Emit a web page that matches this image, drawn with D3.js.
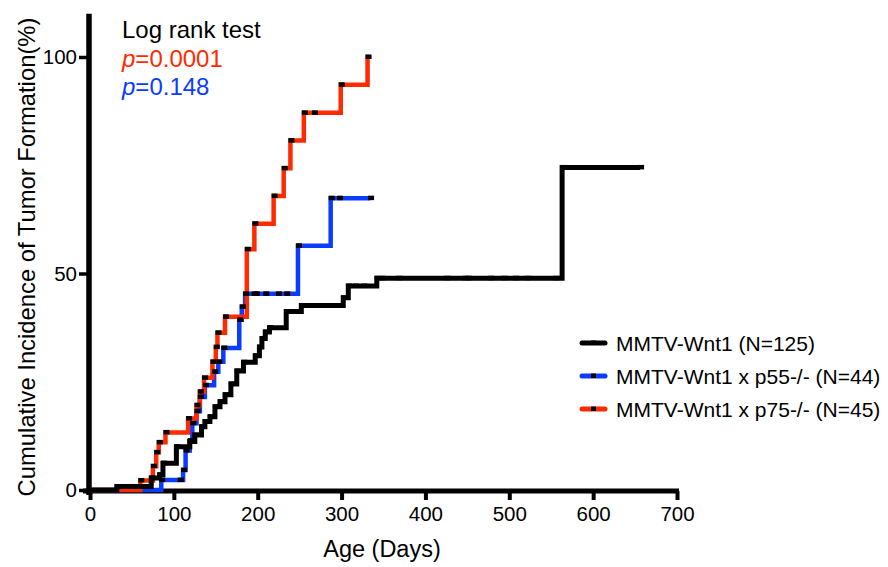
<!DOCTYPE html>
<html>
<head>
<meta charset="utf-8">
<script src="https://cdn.jsdelivr.net/npm/d3@7"></script>
<style>
  html, body { margin: 0; padding: 0; background: #fff; }
  svg { display: block; font-family: "Liberation Sans", Arial, Helvetica, sans-serif; }
</style>
</head>
<body>
<svg id="chart" width="888" height="567"></svg>
<script>
// ---- data ----
const xTicks = [0, 100, 200, 300, 400, 500, 600, 700];
const yTicks = [0, 50, 100];

// MMTV-Wnt1 (N=125)
const wntDays = [0, 32, 73, 83, 87, 103, 119, 125, 133, 137, 143, 149, 155, 161, 168, 175, 183, 197, 202, 205, 209, 214, 234, 252, 302, 308, 342, 563];
const wntPct  = [0, 0.8, 2.8, 3.5, 6.2, 10, 11.2, 12.7, 14.6, 15.8, 16.9, 19.2, 20.4, 22, 24.5, 27.5, 29.5, 31, 33, 35, 36.5, 37.5, 41.2, 42.6, 44.4, 47.1, 48.9, 74.5];
const wntEnd = 656;
const wntCensor = [42, 48, 56, 62, 280, 284, 316, 326, 348, 368, 425, 447, 451, 477, 493, 507, 521, 555, 656];

// MMTV-Wnt1 x p55-/- (N=44)
const p55Days = [0, 85, 111, 114, 119, 122, 127, 131, 137, 148, 153, 159, 178, 181, 185, 248, 287];
const p55Pct  = [0, 2.3, 4.6, 9.1, 11.4, 15.4, 18.2, 21.5, 24.2, 27.3, 29.6, 32.8, 39.3, 42.3, 45.3, 56.4, 67.4];
const p55End = 334;
const p55Censor = [107, 195, 198, 209, 224, 234, 297, 334];

// MMTV-Wnt1 x p75-/- (N=45)
const p75Days = [0, 60, 75, 79, 82, 90, 117, 127, 131, 136, 146, 150, 152, 161, 187, 196, 219, 231, 239, 255, 299, 331];
const p75Pct  = [0, 2.2, 5.5, 8.7, 11, 13.3, 16.5, 19.6, 22.7, 25.9, 29.6, 33, 36.3, 40, 55.6, 61.5, 67.9, 74.3, 80.7, 87.1, 93.6, 100];
const p75End = 332;
const p75Censor = [267];

const seriesNames = ["MMTV-Wnt1 (N=125)", "MMTV-Wnt1 x p55-/- (N=44)", "MMTV-Wnt1 x p75-/- (N=45)"];
const seriesColors = ["#000000", "#0a3cff", "#ff2a00"];
const pValues = ["=0.0001", "=0.148"];

// ---- build ----
const svg = d3.select("#chart");
const x = d3.scaleLinear().domain([0, 700]).range([90, 677]);
const y = d3.scaleLinear().domain([0, 110]).range([490, 13.7]);

function makeSeries(days, pct, end, censor) {
  const pts = days.map((d, i) => [d, pct[i]]);
  pts.push([end, pct[pct.length - 1]]);
  const levelAt = d => { let v = 0; for (let i = 0; i < days.length; i++) if (days[i] <= d) v = pct[i]; return v; };
  const marks = days.slice(1).map((d, i) => [d, pct[i + 1]]).concat(censor.map(d => [d, levelAt(d)]));
  return { pts, marks };
}
const series = [
  makeSeries(wntDays, wntPct, wntEnd, wntCensor),
  makeSeries(p55Days, p55Pct, p55End, p55Censor),
  makeSeries(p75Days, p75Pct, p75End, p75Censor)
];

// axes
const xAxis = svg.append("g").attr("transform", "translate(0,491)")
  .call(d3.axisBottom(x).tickValues(xTicks).tickSize(9).tickSizeOuter(0).tickPadding(6));
xAxis.select(".domain").attr("stroke", "#000").attr("stroke-width", 5).attr("d", `M${x(0) - 7},0H${x(700) + 2}`);
xAxis.selectAll(".tick line").attr("stroke", "#000").attr("stroke-width", 4);
xAxis.selectAll(".tick text").attr("font-size", 20.5).attr("fill", "#000").attr("font-family", "Liberation Sans, Arial, sans-serif");

const yAxis = svg.append("g").attr("transform", "translate(89,0)")
  .call(d3.axisLeft(y).tickValues(yTicks).tickSize(10).tickSizeOuter(0).tickPadding(2));
yAxis.select(".domain").attr("stroke", "#000").attr("stroke-width", 5.5).attr("d", `M0,${y(110)}V${y(0) + 5}`);
yAxis.selectAll(".tick line").attr("stroke", "#000").attr("stroke-width", 3.5);
yAxis.selectAll(".tick text").attr("font-size", 20.5).attr("fill", "#000").attr("font-family", "Liberation Sans, Arial, sans-serif");

// curves
const line = d3.line().x(d => x(d[0])).y(d => y(d[1])).curve(d3.curveStepAfter);
const order = [1, 2, 0];
order.forEach(i => {
  svg.append("path").datum(series[i].pts)
    .attr("d", line).attr("fill", "none")
    .attr("stroke", seriesColors[i]).attr("stroke-width", i === 0 ? 5 : 4.5)
    .attr("stroke-linejoin", "miter").attr("stroke-linecap", "butt");
});
order.forEach(i => {
  svg.append("g").selectAll("rect").data(series[i].marks).join("rect")
    .attr("x", d => x(d[0]) - 2).attr("y", d => y(d[1]) - 2.5)
    .attr("width", 6).attr("height", 4.5).attr("fill", "#000");
});

// axis titles
svg.append("text").attr("x", 382).attr("y", 557).attr("text-anchor", "middle")
  .attr("font-size", 23.5).attr("fill", "#000").text("Age (Days)");
svg.append("text").attr("transform", "translate(35,257) rotate(-90)").attr("text-anchor", "middle")
  .attr("font-size", 23.8).attr("fill", "#000").text("Cumulative Incidence of Tumor Formation(%)");

// annotation
svg.append("text").attr("x", 122).attr("y", 38).attr("font-size", 24).attr("fill", "#000").text("Log rank test");
pValues.forEach((pv, i) => {
  const t = svg.append("text").attr("x", 122).attr("y", 67 + i * 27.5).attr("font-size", 24).attr("fill", seriesColors[2 - i]);
  t.append("tspan").attr("font-style", "italic").text("p");
  t.append("tspan").text(pv);
});

// legend
const leg = svg.append("g");
seriesNames.forEach((name, i) => {
  const ly = 343 + i * 33;
  leg.append("line").attr("x1", 582).attr("x2", 605).attr("y1", ly).attr("y2", ly)
    .attr("stroke", seriesColors[i]).attr("stroke-width", 5).attr("stroke-linecap", "round");
  leg.append("rect").attr("x", 591).attr("y", ly - 2.5).attr("width", 5).attr("height", 4.5).attr("fill", "#000");
  leg.append("text").attr("x", 616).attr("y", ly + 7.5).attr("font-size", 21).attr("fill", "#000").text(name);
});
</script>
</body>
</html>
